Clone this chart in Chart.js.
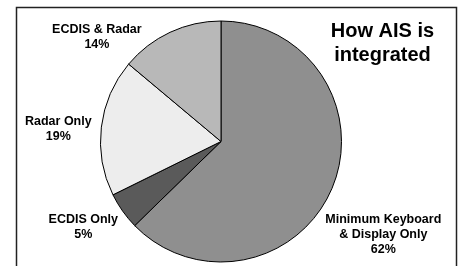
<!DOCTYPE html>
<html>
<head>
<meta charset="utf-8">
<script src="https://cdn.jsdelivr.net/npm/chart.js@4/dist/chart.umd.min.js"></script>
<style>
html,body{margin:0;padding:0;background:#fff;}
#wrap{width:463px;height:266px;position:relative;}
</style>
</head>
<body>
<div id="wrap"><canvas id="c" width="463" height="266"></canvas></div>
<script>
const categories = ["Minimum Keyboard\n& Display Only", "ECDIS Only", "Radar Only", "ECDIS & Radar"];
// slice sizes
const values = [62.7, 5.0, 18.4, 13.9];
// percentages as printed on the chart
const percentLabels = ["62%", "5%", "19%", "14%"];
const titleLines = ["How AIS is", "integrated"];

const sliceColors = ["#8f8f8f", "#5a5a5a", "#ededed", "#b8b8b8"];
// label anchor positions relative to pie centre, in units of pie radius
const labelPlacement = [[1.347, 0.776], [-1.143, 0.714], [-1.35, -0.10], [-1.03, -0.87]];

const decor = {
  id: "decor",
  beforeDraw(chart) {
    const ctx = chart.ctx;
    ctx.save();
    ctx.fillStyle = "#fff";
    ctx.fillRect(0, 0, chart.width, chart.height);
    ctx.strokeStyle = "#222";
    ctx.lineWidth = 1.5;
    ctx.strokeRect(16.5, 7.5, 440, 300);
    ctx.restore();
  },
  afterDraw(chart) {
    const ctx = chart.ctx;
    const meta = chart.getDatasetMeta(0);
    const arc0 = meta.data[0];
    const cx = arc0.x, cy = arc0.y, r = arc0.outerRadius;
    ctx.save();
    ctx.fillStyle = "#000";
    ctx.textAlign = "center";
    ctx.textBaseline = "middle";
    ctx.font = "bold 12.5px 'Liberation Sans', Arial, sans-serif";
    categories.forEach((cat, i) => {
      const lines = cat.split("\n").concat([percentLabels[i]]);
      const lx = cx + labelPlacement[i][0] * r;
      const ly = cy + labelPlacement[i][1] * r;
      const lh = 15;
      const top = ly - (lines.length - 1) * lh / 2;
      lines.forEach((t, k) => ctx.fillText(t, lx, top + k * lh));
    });
    ctx.font = "bold 20px 'Liberation Sans', Arial, sans-serif";
    titleLines.forEach((t, k) => ctx.fillText(t, 382.5, 31 + k * 24));
    ctx.restore();
  }
};

new Chart(document.getElementById("c"), {
  type: "pie",
  data: {
    labels: categories,
    datasets: [{
      data: values,
      backgroundColor: sliceColors,
      borderColor: "#000",
      borderWidth: 1
    }]
  },
  options: {
    responsive: false,
    animation: false,
    layout: { padding: { left: 80, right: 101, top: 20.5, bottom: 3.5 } },
    plugins: {
      legend: { display: false },
      tooltip: { enabled: false },
      title: { display: false }
    }
  },
  plugins: [decor]
});
</script>
</body>
</html>
